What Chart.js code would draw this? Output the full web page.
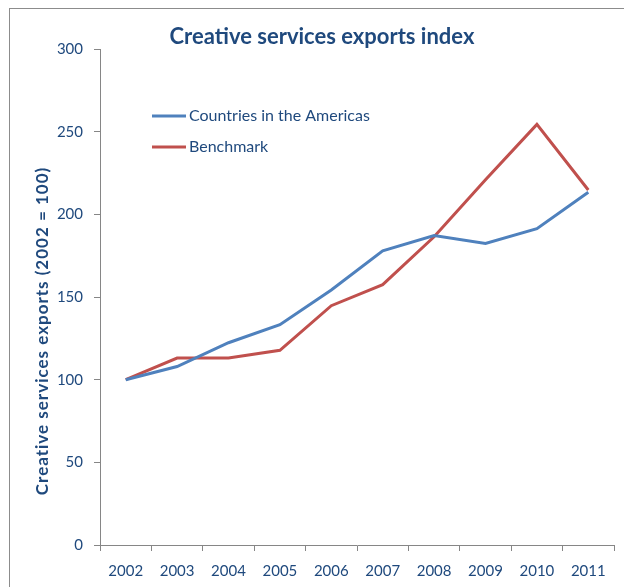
<!DOCTYPE html>
<html>
<head>
<meta charset="utf-8">
<script src="https://cdn.jsdelivr.net/npm/chart.js@4"></script>
<style>
  html, body { margin: 0; padding: 0; background: #fff; overflow: hidden; }
  #wrap { position: relative; width: 624px; height: 587px; }
  #frame { position: absolute; left: 9px; top: 8px; width: 800px; height: 800px; border: 1px solid #8c8c8c; }
  canvas { position: absolute; left: 0; top: 0; }
</style>
</head>
<body>
<div id="wrap">
  <div id="frame"></div>
  <canvas id="myChart" width="624" height="587"></canvas>
</div>
<script>
var years = ['2002', '2003', '2004', '2005', '2006', '2007', '2008', '2009', '2010', '2011'];
var americas = [100, 108, 122.4, 133.3, 154.3, 178, 187.3, 182.5, 191.4, 213.4];
var benchmark = [100, 113.1, 113.1, 117.8, 144.8, 157.5, 186.5, 221, 254.5, 214.8];
var yTicks = [0, 50, 100, 150, 200, 250, 300];

var textColor = '#1F497D';
var axisColor = '#868686';
var fontFamily = 'Lato, "Open Sans", sans-serif';

// legend sits inside the plot, Excel style, plus the rotated y title
var extras = {
  id: 'extras',
  afterDraw: function (chart) {
    var ctx = chart.ctx;
    ctx.save();
    ctx.font = '16px ' + fontFamily;
    ctx.textBaseline = 'middle';
    ctx.textAlign = 'left';
    var rows = [116, 147];
    chart.data.datasets.forEach(function (ds, i) {
      ctx.strokeStyle = ds.borderColor;
      ctx.lineWidth = 3;
      ctx.beginPath();
      ctx.moveTo(152, rows[i]);
      ctx.lineTo(186, rows[i]);
      ctx.stroke();
      ctx.fillStyle = textColor;
      ctx.fillText(ds.label, 189, rows[i]);
    });

    ctx.translate(43, 331);
    ctx.rotate(-Math.PI / 2);
    ctx.textAlign = 'center';
    ctx.font = 'bold 17px ' + fontFamily;
    ctx.letterSpacing = '1px';
    ctx.fillText('Creative services exports (2002 = 100)', 0, 0);
    ctx.restore();
  }
};

new Chart(document.getElementById('myChart'), {
  type: 'line',
  data: {
    labels: years,
    datasets: [{
      label: 'Countries in the Americas',
      data: americas,
      borderColor: '#4F81BD',
      backgroundColor: '#4F81BD',
      borderWidth: 3,
      pointRadius: 0,
      tension: 0
    }, {
      label: 'Benchmark',
      data: benchmark,
      borderColor: '#C0504D',
      backgroundColor: '#C0504D',
      borderWidth: 3,
      pointRadius: 0,
      tension: 0
    }]
  },
  options: {
    responsive: false,
    animation: false,
    layout: { padding: { left: 30, right: 10, top: 0, bottom: 0 } },
    plugins: {
      legend: { display: false },
      tooltip: { enabled: false },
      title: {
        display: true,
        text: 'Creative services exports index',
        color: textColor,
        font: { family: fontFamily, size: 22, weight: 'bold', lineHeight: 1.1 },
        padding: { top: 25, bottom: 0 }
      }
    },
    scales: {
      x: {
        offset: true,
        grid: { offset: true, drawOnChartArea: false, tickLength: 6, color: axisColor },
        border: { color: axisColor, width: 1 },
        ticks: { color: textColor, padding: 11, font: { family: fontFamily, size: 15 }, maxRotation: 0 },
        afterFit: function (scale) { scale.height = 42; }
      },
      y: {
        min: 0,
        max: 300,
        afterBuildTicks: function (scale) {
          scale.ticks = yTicks.map(function (v) { return { value: v }; });
        },
        grid: { drawOnChartArea: false, tickLength: 6, color: axisColor },
        border: { color: axisColor, width: 1 },
        ticks: { color: textColor, padding: 11, font: { family: fontFamily, size: 15 } },
        afterFit: function (scale) { scale.width = 70; }
      }
    }
  },
  plugins: [extras]
});
</script>
</body>
</html>
